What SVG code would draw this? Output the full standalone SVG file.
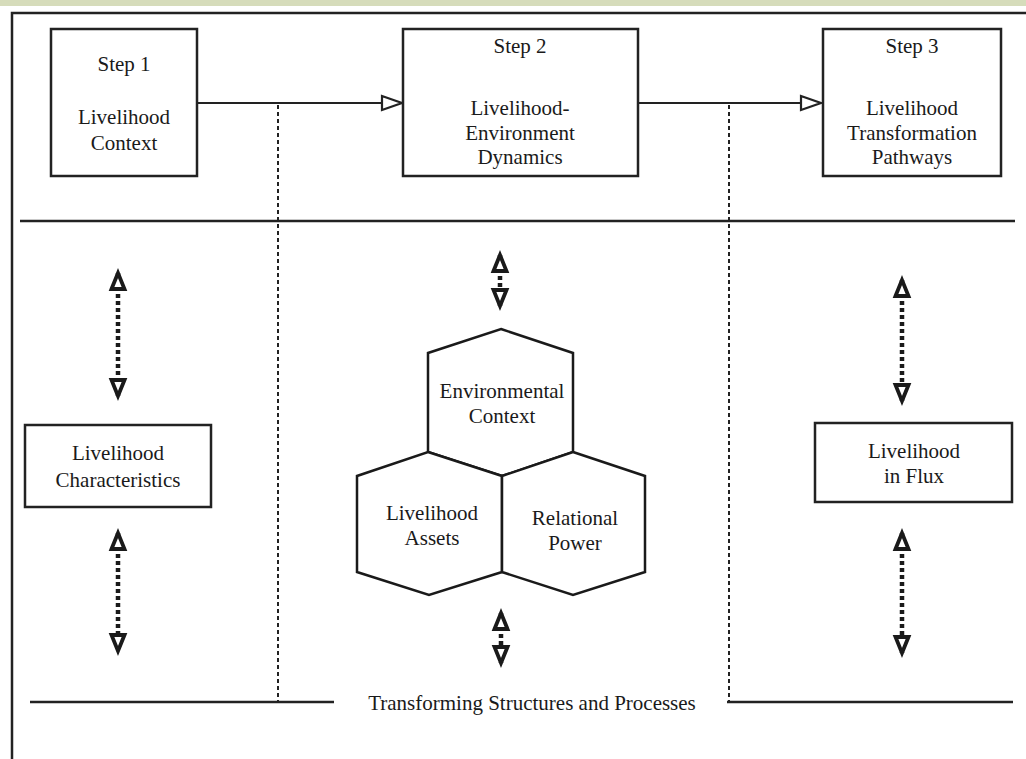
<svg xmlns="http://www.w3.org/2000/svg" width="1026" height="759" viewBox="0 0 1026 759">
<style>
text{font-family:"Liberation Serif","Times New Roman",serif;font-size:21px;fill:#1a1a1a;text-anchor:middle}
.box{fill:#fff;stroke:#222;stroke-width:2.5}
.hex{fill:#fff;stroke:#1a1a1a;stroke-width:2.5;stroke-linejoin:miter}
.rule{stroke:#222;stroke-width:2.5;fill:none}
.flow{stroke:#222;stroke-width:2;fill:none}
.div{stroke:#222;stroke-width:2;stroke-dasharray:4 3;fill:none}
.dbl{stroke:#1a1a1a;stroke-width:4.5;stroke-dasharray:4 3;fill:none}
</style>
<defs>
<marker id="flowHead" markerUnits="userSpaceOnUse" markerWidth="24" markerHeight="18" viewBox="0 0 24 18" refX="21" refY="9" orient="auto" overflow="visible">
<path d="M1,2 L21,9 L1,16 Z" fill="#fff" stroke="#222" stroke-width="2.2" stroke-linejoin="miter"/>
</marker>
<marker id="dblHead" markerUnits="userSpaceOnUse" markerWidth="22" markerHeight="20" viewBox="0 0 22 20" refX="17" refY="10" orient="auto-start-reverse" overflow="visible">
<path d="M1,3.5 L17,10 L1,16.5 Z" fill="#fff" stroke="#1a1a1a" stroke-width="3.8" stroke-linejoin="miter"/>
</marker>
</defs>
<rect x="0" y="0" width="1026" height="6" fill="#d6dcbb"/>
<rect x="0" y="6" width="1026" height="753" fill="#fff"/>
<g id="frame">
<path class="rule" d="M12,759 V13 H1026"/>
<line class="rule" x1="20" y1="221" x2="1015" y2="221"/>
<line class="rule" x1="30" y1="702" x2="334" y2="702"/>
<line class="rule" x1="727" y1="702" x2="1013" y2="702"/>
</g>
<g id="connectors">
<line class="flow" x1="196" y1="103" x2="402" y2="103" marker-end="url(#flowHead)"/>
<line class="flow" x1="638" y1="103" x2="821" y2="103" marker-end="url(#flowHead)"/>
<line class="div" x1="278" y1="105" x2="278" y2="701"/>
<line class="div" x1="729" y1="105" x2="729" y2="701"/>
<line class="dbl" x1="118" y1="273" x2="118" y2="396" marker-start="url(#dblHead)" marker-end="url(#dblHead)"/>
<line class="dbl" x1="118" y1="533" x2="118" y2="651" marker-start="url(#dblHead)" marker-end="url(#dblHead)"/>
<line class="dbl" x1="500" y1="255" x2="500" y2="306" marker-start="url(#dblHead)" marker-end="url(#dblHead)"/>
<line class="dbl" x1="501" y1="613" x2="501" y2="663" marker-start="url(#dblHead)" marker-end="url(#dblHead)"/>
<line class="dbl" x1="902" y1="280" x2="902" y2="401" marker-start="url(#dblHead)" marker-end="url(#dblHead)"/>
<line class="dbl" x1="902" y1="533" x2="902" y2="653" marker-start="url(#dblHead)" marker-end="url(#dblHead)"/>
</g>
<g id="step1">
<rect class="box" x="51" y="29" width="146" height="147"/>
<text x="124" y="71">Step 1</text>
<text x="124" y="124">Livelihood</text>
<text x="124" y="150">Context</text>
</g>
<g id="step2">
<rect class="box" x="403" y="29" width="235" height="147"/>
<text x="520" y="53">Step 2</text>
<text x="520" y="115">Livelihood-</text>
<text x="520" y="140">Environment</text>
<text x="520" y="164">Dynamics</text>
</g>
<g id="step3">
<rect class="box" x="823" y="29" width="178" height="147"/>
<text x="912" y="53">Step 3</text>
<text x="912" y="115">Livelihood</text>
<text x="912" y="140">Transformation</text>
<text x="912" y="164">Pathways</text>
</g>
<g id="characteristics">
<rect class="box" x="25" y="425" width="186" height="82"/>
<text x="118" y="460">Livelihood</text>
<text x="118" y="487">Characteristics</text>
</g>
<g id="flux">
<rect class="box" x="815" y="423" width="197" height="79"/>
<text x="914" y="458">Livelihood</text>
<text x="914" y="483">in Flux</text>
</g>
<g id="environmental-context">
<polygon class="hex" points="501,329 573,353 573,452 502,476 428,452 428,353"/>
<text x="502" y="398">Environmental</text>
<text x="502" y="423">Context</text>
</g>
<g id="livelihood-assets">
<polygon class="hex" points="428,452 502,476 502,572 429,595 357,572 357,476"/>
<text x="432" y="520">Livelihood</text>
<text x="432" y="545">Assets</text>
</g>
<g id="relational-power">
<polygon class="hex" points="573,452 645,476 645,572 573,595 502,572 502,476"/>
<text x="575" y="525">Relational</text>
<text x="575" y="550">Power</text>
</g>
<g id="transforming">
<text x="532" y="710">Transforming Structures and Processes</text>
</g>
</svg>
